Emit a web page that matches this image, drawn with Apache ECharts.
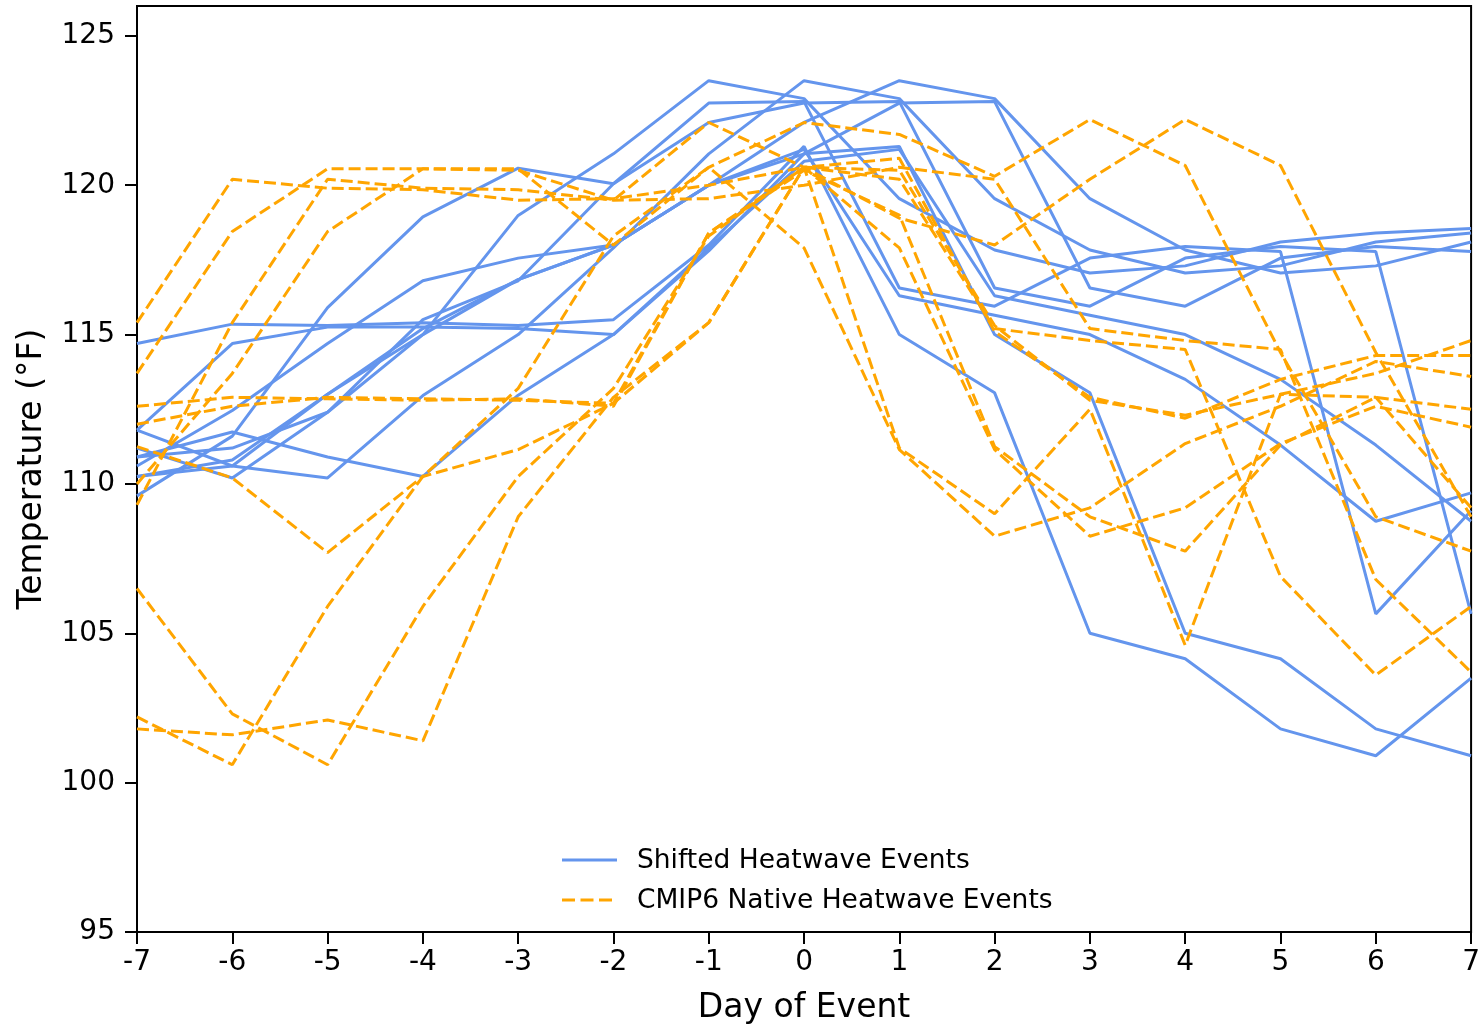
<!DOCTYPE html>
<html><head><meta charset="utf-8">
<script src="https://cdn.jsdelivr.net/npm/echarts@6/dist/echarts.min.js"></script>
<style>html,body{margin:0;padding:0;background:#fff;overflow:hidden}#c{width:1483px;height:1030px}</style>
</head><body><div id="c"></div>
<script>
const days = [-7,-6,-5,-4,-3,-2,-1,0,1,2,3,4,5,6,7];
const yTicks = [95,100,105,110,115,120,125];
// Shifted heatwave events (blue, solid)
const shifted1 = [114.7,115.35,115.3,115.4,115.3,115.5,118.0,121.3,115.0,113.05,105.0,104.15,101.8,100.9,103.5];
const shifted2 = [111.8,114.7,115.25,115.25,115.2,115.0,117.8,121.05,121.3,115.0,113.05,105.0,104.15,101.8,100.9];
const shifted3 = [109.6,111.6,115.9,118.94,120.57,120.05,122.75,122.8,116.56,115.95,117.56,117.95,117.78,105.65,109.1];
const shifted4 = [110.6,112.46,114.7,116.8,117.56,118.0,120.0,121.2,116.3,115.65,115.0,113.5,111.3,108.75,109.7];
const shifted5 = [111.8,110.6,110.2,112.96,115.0,117.9,121.05,123.5,122.9,119.55,117.83,117.06,117.3,118.1,118.4];
const shifted6 = [110.9,111.74,110.9,110.25,112.97,115.0,117.9,120.8,121.2,116.3,115.65,115.0,113.5,111.3,108.75];
const shifted7 = [110.25,110.8,113.0,115.0,116.84,118.0,120.0,122.1,123.5,122.9,119.55,117.83,117.06,117.3,118.1];
const shifted8 = [111.2,110.2,112.4,115.0,118.99,121.05,123.5,122.9,119.55,117.83,117.06,117.3,118.1,118.4,118.55];
const shifted9 = [110.9,111.2,112.4,115.5,116.8,120.05,122.1,122.75,122.8,116.56,115.95,117.56,117.95,117.78,105.65];
const shifted10 = [110.25,110.6,113.0,115.2,116.84,118.0,120.0,121.05,122.75,122.8,116.56,115.95,117.56,117.95,117.78];
// CMIP6 native heatwave events (orange, dashed)
const native1 = [115.4,120.2,119.9,119.85,119.5,119.55,120.0,120.6,120.2,115.2,114.8,114.5,106.9,103.6,105.9];
const native2 = [109.3,115.4,120.2,119.9,119.85,119.5,119.55,120.0,120.6,120.2,115.2,114.8,114.5,106.8,103.7];
const native3 = [113.7,118.45,120.55,120.55,120.5,119.5,122.1,120.6,118.9,118.0,120.2,122.2,120.66,114.4,108.9];
const native4 = [110.0,113.7,118.45,120.55,120.55,118.0,120.6,122.1,121.7,120.3,122.2,120.66,114.4,108.9,107.75];
const native5 = [112.6,112.9,112.85,112.8,112.85,112.6,118.4,120.6,120.9,115.1,112.9,112.2,113.5,114.3,114.3];
const native6 = [112.0,112.6,112.9,112.85,112.8,112.7,115.4,120.6,120.5,115.3,112.8,112.3,113.0,113.7,114.8];
const native7 = [111.25,110.2,107.7,110.25,111.15,112.7,118.4,120.5,119.0,111.25,108.9,107.75,111.3,112.9,112.5];
const native8 = [102.2,100.6,105.9,110.25,113.2,118.3,120.6,117.9,111.15,108.25,109.2,111.35,112.6,114.1,113.6];
const native9 = [106.5,102.3,100.6,105.9,110.25,113.2,118.3,120.6,117.9,111.15,108.25,109.2,111.35,112.6,111.9];
const native10 = [101.8,101.6,102.1,101.4,108.9,112.9,115.4,120.6,111.2,109.0,112.5,104.6,113.0,112.9,109.2];

const shiftedAll = [shifted1,shifted2,shifted3,shifted4,shifted5,shifted6,shifted7,shifted8,shifted9,shifted10];
const nativeAll = [native1,native2,native3,native4,native5,native6,native7,native8,native9,native10];
const BLUE = '#6495ED', ORANGE = '#FFA500';
const NAME_B = 'Shifted Heatwave Events', NAME_O = 'CMIP6 Native Heatwave Events';
const font = 'DejaVu Sans';
const DASH = [12,5];
const series = [];
shiftedAll.forEach(arr => series.push({
  type:'line', name:NAME_B, data: days.map((d,i)=>[d,arr[i]]), symbol:'none',
  lineStyle:{color:BLUE,width:3}, itemStyle:{color:BLUE}, z:2
}));
nativeAll.forEach(arr => series.push({
  type:'line', name:NAME_O, data: days.map((d,i)=>[d,arr[i]]), symbol:'none',
  lineStyle:{color:ORANGE,width:3,type:DASH}, itemStyle:{color:ORANGE}, z:3
}));
const chart = echarts.init(document.getElementById('c'), null, {renderer:'canvas'});
chart.setOption({
  animation:false,
  backgroundColor:'#fff',
  grid:{left:137,right:6,top:6,bottom:91,show:true,borderColor:'#000',borderWidth:2,backgroundColor:'transparent'},
  xAxis:{type:'value',min:-7,max:7,interval:1,
    name:'Day of Event',nameLocation:'middle',nameGap:60,
    nameTextStyle:{fontFamily:font,fontSize:33,color:'#000'},
    axisLine:{show:true,onZero:false,lineStyle:{color:'#000',width:2}},
    axisTick:{show:true,inside:false,length:12,lineStyle:{color:'#000',width:2}},
    axisLabel:{fontFamily:font,fontSize:28,color:'#000',margin:17},
    splitLine:{show:false}},
  yAxis:{type:'value',min:95,max:126,interval:5,
    name:'Temperature (°F)',nameLocation:'middle',nameGap:88,nameRotate:90,
    nameTextStyle:{fontFamily:font,fontSize:33,color:'#000'},
    axisLine:{show:true,onZero:false,lineStyle:{color:'#000',width:2}},
    axisTick:{show:true,inside:false,length:12,lineStyle:{color:'#000',width:2},
      interval:function(i,v){return yTicks.includes(Number(v));}},
    axisLabel:{fontFamily:font,fontSize:28,color:'#000',margin:22,showMaxLabel:false,
      formatter:v=>yTicks.includes(v)?String(v):''},
    splitLine:{show:false}},
  graphic:[
    {type:'line',shape:{x1:562,y1:860,x2:617,y2:860},style:{stroke:BLUE,lineWidth:3}},
    {type:'text',x:637,y:861,style:{text:NAME_B,font:'26.5px "DejaVu Sans"',fill:'#000',textVerticalAlign:'middle',verticalAlign:'middle'}},
    {type:'line',shape:{x1:562,y1:900,x2:617,y2:900},style:{stroke:ORANGE,lineWidth:3,lineDash:[13,5.5]}},
    {type:'text',x:637,y:901,style:{text:NAME_O,font:'26.5px "DejaVu Sans"',fill:'#000',textVerticalAlign:'middle',verticalAlign:'middle'}}
  ],
  series:series
});
</script></body></html>
